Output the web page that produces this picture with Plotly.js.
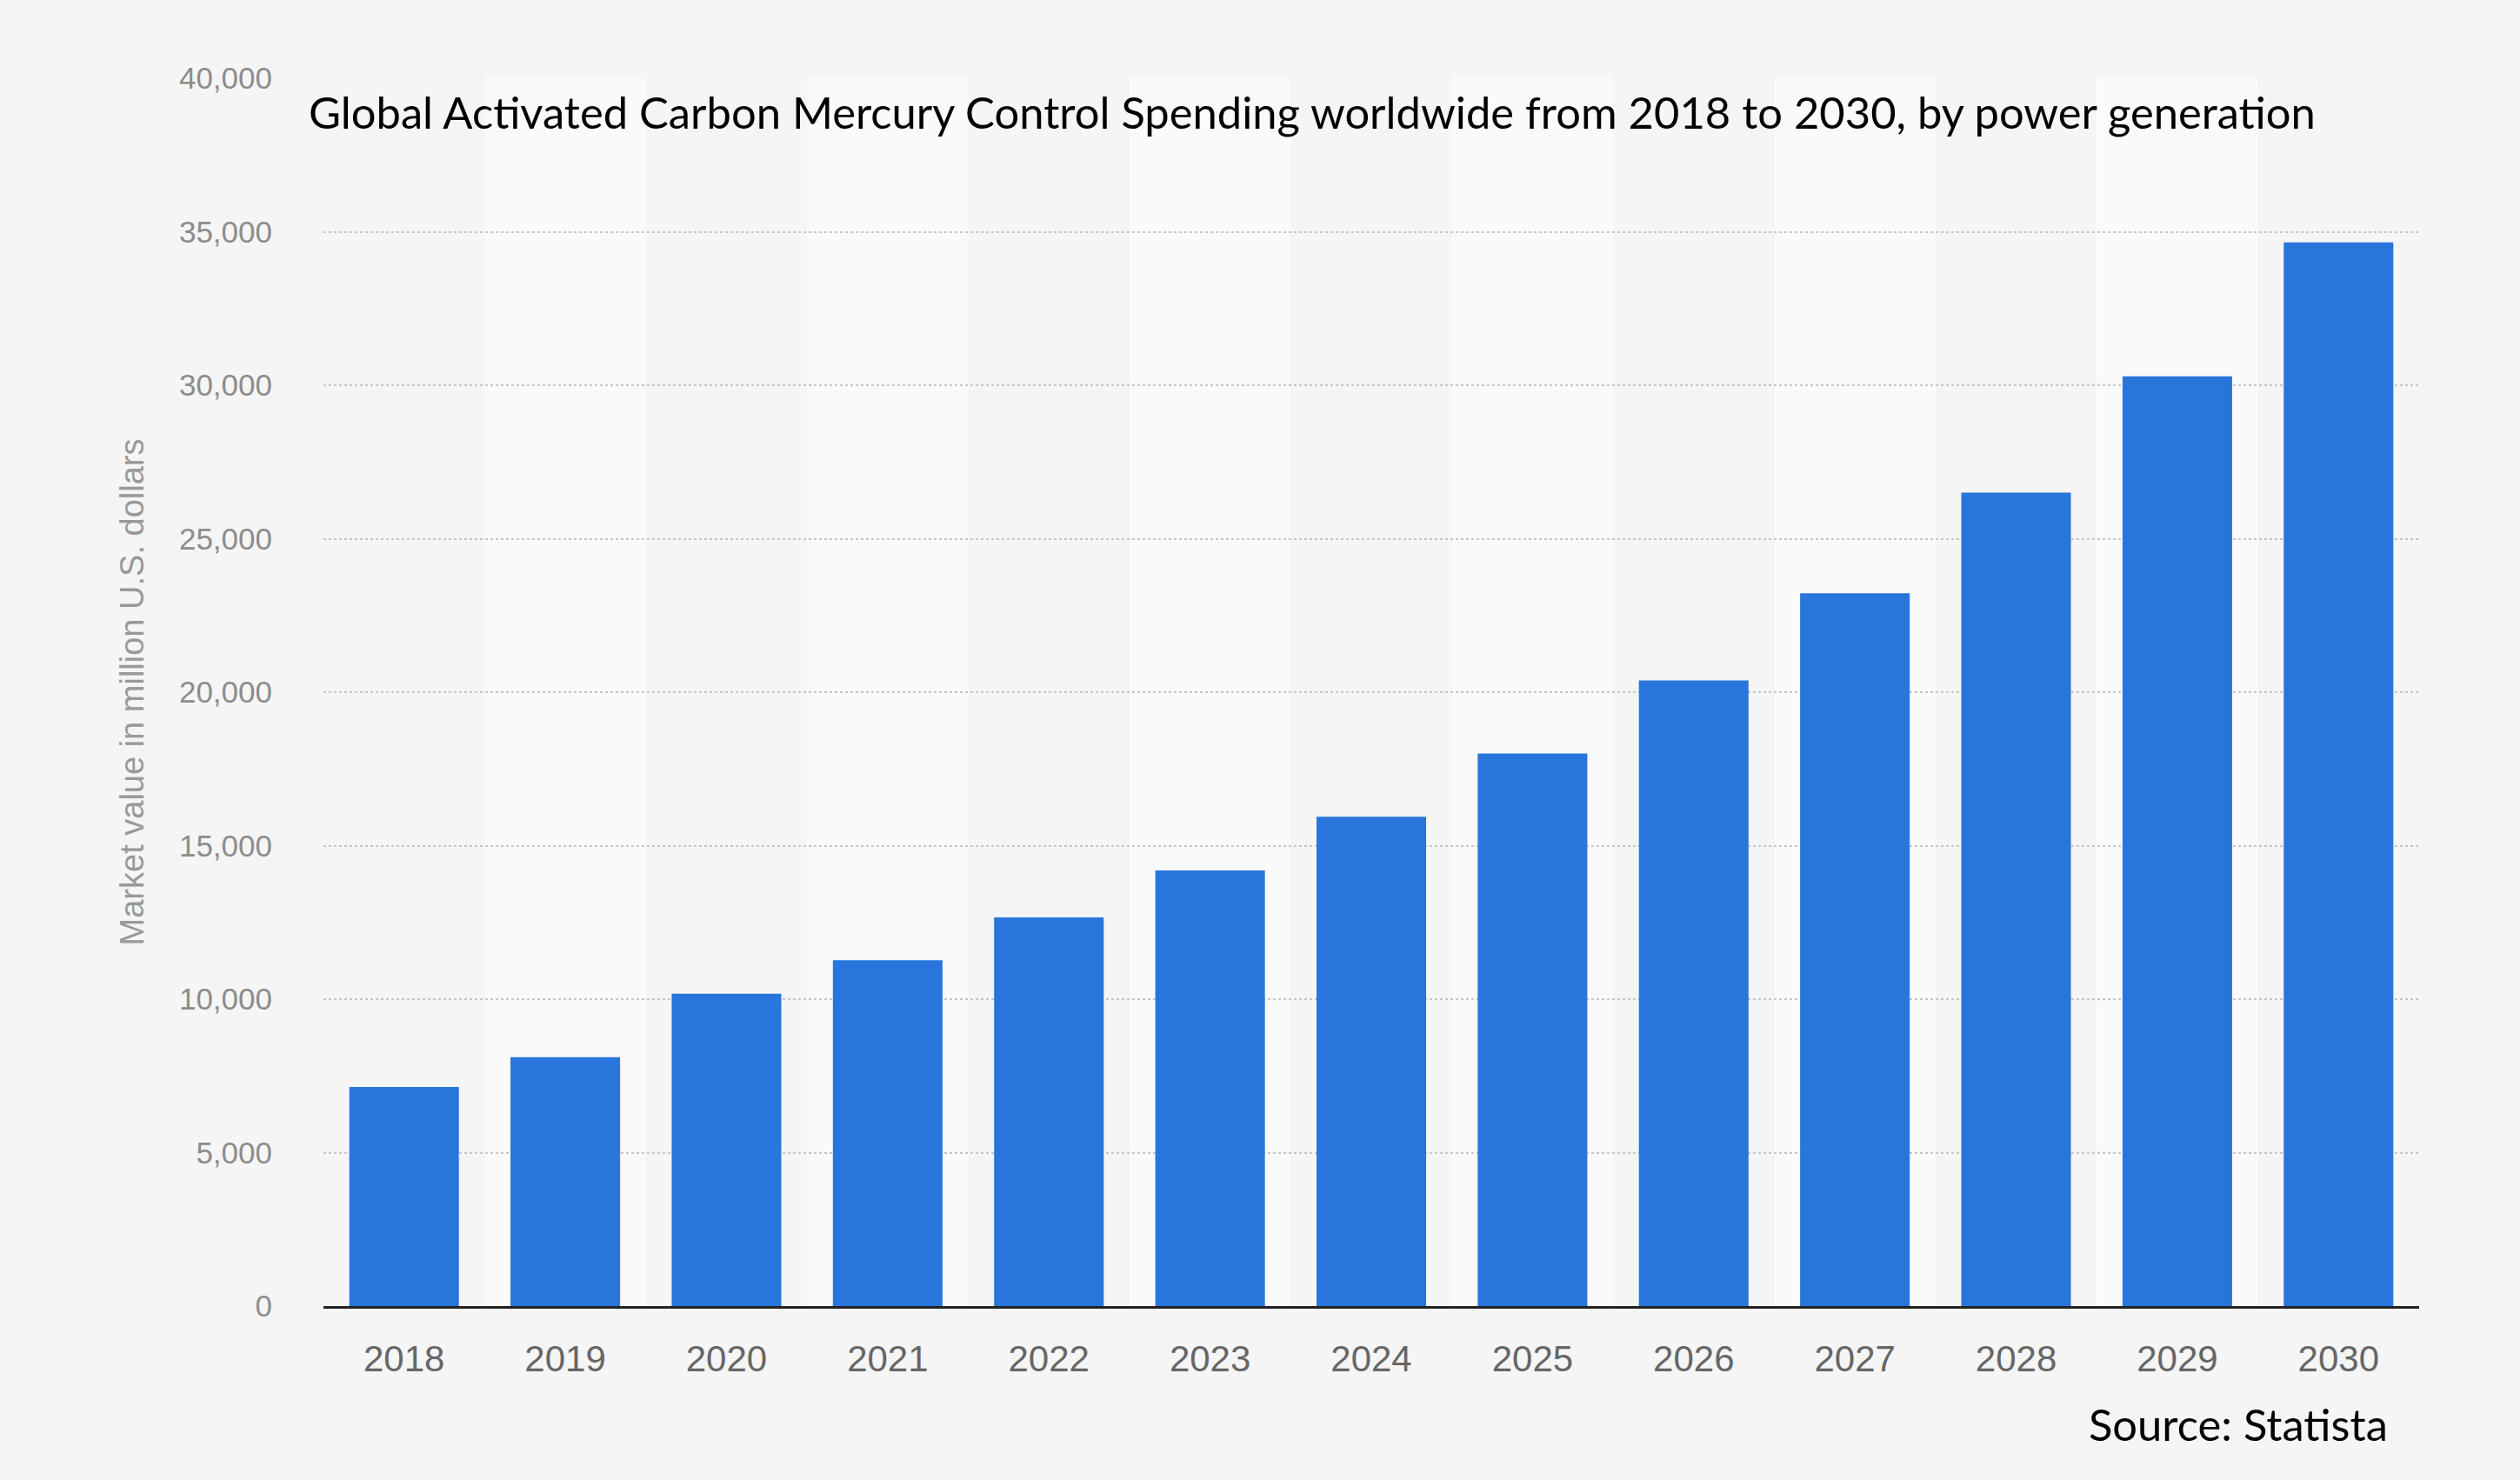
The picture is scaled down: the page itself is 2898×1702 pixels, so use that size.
<!DOCTYPE html>
<html>
<head>
<meta charset="utf-8">
<script src="https://cdn.plot.ly/plotly-3.0.1.min.js"></script>
<style>
  html, body { margin: 0; padding: 0; background: #f5f5f5; }
  #chart { width: 2898px; height: 1702px; }
</style>
</head>
<body>
<div id="chart"></div>
<script>
// Chart data
const years = ['2018', '2019', '2020', '2021', '2022', '2023', '2024', '2025', '2026', '2027', '2028', '2029', '2030'];
const marketValues = [7140, 8110, 10180, 11270, 12660, 14190, 15940, 18000, 20380, 23220, 26500, 30290, 34650];
const yTicks = [0, 5000, 10000, 15000, 20000, 25000, 30000, 35000, 40000];
const yTickLabels = ['0', '5,000', '10,000', '15,000', '20,000', '25,000', '30,000', '35,000', '40,000'];

const chartDiv = document.getElementById('chart');

// Colors
var bgColor = '#f5f5f5';
var bandColor = '#fafafa';
var barColor = '#2876dc';

var barTrace = {
  x: years,
  y: marketValues,
  type: 'bar',
  marker: { color: barColor, line: { width: 0 } },
  hoverinfo: 'x+y',
};

// Lighter band behind every second year
var bandShapes = years
  .map((year, i) => {
    if (i % 2 === 0) return null;
    return {
      type: 'rect',
      xref: 'x',
      yref: 'paper',
      x0: i - 0.5,
      x1: i + 0.5,
      y0: 0,
      y1: 1,
      fillcolor: bandColor,
      line: { width: 0 },
      layer: 'below',
    };
  })
  .filter(Boolean);

var layout = {
  width: 2898,
  height: 1702,
  margin: { t: 90, b: 200, l: 372, r: 116, pad: 0 },
  paper_bgcolor: bgColor,
  plot_bgcolor: bgColor,
  showlegend: false,
  bargap: 0.32,
  title: {
    text: 'Global Activated Carbon Mercury Control Spending worldwide from 2018 to 2030, by power generation',
    font: { family: 'Lato, sans-serif', size: 50.7, color: '#000000' },
    xref: 'container',
    yref: 'container',
    x: 355 / 2898,
    xanchor: 'left',
    y: 1 - 130 / 1702,
    yanchor: 'middle',
  },
  xaxis: {
    type: 'category',
    showgrid: false,
    showline: true,
    linecolor: '#222222',
    linewidth: 3,
    ticks: '',
    ticklabelstandoff: 22,
    tickfont: { family: 'Liberation Sans, Arial, sans-serif', size: 42, color: '#666666' },
  },
  yaxis: {
    range: [0, 40000],
    tickvals: yTicks,
    ticktext: yTickLabels,
    ticks: '',
    ticklabelstandoff: 58,
    tickfont: { family: 'Liberation Sans, Arial, sans-serif', size: 35, color: '#8c8c8c' },
    showgrid: true,
    gridcolor: '#c6c6c6',
    gridwidth: 2,
    griddash: 'dot',
    zeroline: false,
    showline: false,
    title: {
      text: 'Market value in million U.S. dollars',
      font: { family: 'Liberation Sans, Arial, sans-serif', size: 38, color: '#999999' },
      standoff: 28,
    },
  },
  shapes: bandShapes,
  annotations: [
    {
      text: 'Source: Statista',
      xref: 'paper',
      yref: 'paper',
      x: (2748 - 372) / 2410,
      xanchor: 'right',
      y: -(1637 - 1502) / 1412,
      yanchor: 'middle',
      showarrow: false,
      font: { family: 'Lato, sans-serif', size: 50.7, color: '#000000' },
    },
  ],
};

var config = { responsive: false, displayModeBar: false };

Plotly.newPlot(chartDiv, [barTrace], layout, config);
</script>
</body>
</html>
